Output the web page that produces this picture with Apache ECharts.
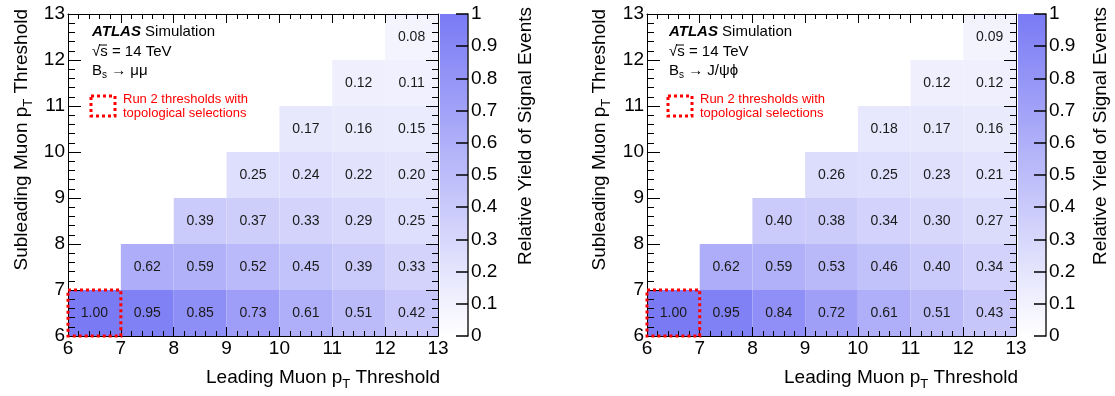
<!DOCTYPE html>
<html>
<head>
<meta charset="utf-8">
<script src="https://cdn.jsdelivr.net/npm/echarts@6/dist/echarts.min.js"></script>
<style>
html,body{margin:0;padding:0;background:#fff;}
#chart{width:1115px;height:396px;}
</style>
</head>
<body>
<div id="chart"></div>
<script>
// ---------------- DATA ----------------
const leadingThresholds = [6, 7, 8, 9, 10, 11, 12];      // lower edge of each bin (GeV)
const subleadingThresholds = [6, 7, 8, 9, 10, 11, 12];   // lower edge of each bin (GeV)
const axisTicks = [6, 7, 8, 9, 10, 11, 12, 13];
const colorbarTicks = [0, 0.1, 0.2, 0.3, 0.4, 0.5, 0.6, 0.7, 0.8, 0.9, 1];

// Each row: subleading threshold row, starting at leading threshold == subleading threshold
const yieldBsMuMu = [
  [1.00, 0.95, 0.85, 0.73, 0.61, 0.51, 0.42],
  [0.62, 0.59, 0.52, 0.45, 0.39, 0.33],
  [0.39, 0.37, 0.33, 0.29, 0.25],
  [0.25, 0.24, 0.22, 0.20],
  [0.17, 0.16, 0.15],
  [0.12, 0.11],
  [0.08]
];
const yieldBsJpsiPhi = [
  [1.00, 0.95, 0.84, 0.72, 0.61, 0.51, 0.43],
  [0.62, 0.59, 0.53, 0.46, 0.40, 0.34],
  [0.40, 0.38, 0.34, 0.30, 0.27],
  [0.26, 0.25, 0.23, 0.21],
  [0.18, 0.17, 0.16],
  [0.12, 0.12],
  [0.09]
];
const run2Cell = [[6, 6]];          // highlighted bin (leading, subleading)
const colorbarRange = [[0, 0, 1]];  // x0, y0(min), y1(max)

// ---------------- STYLE ----------------
const FONT = 'Liberation Sans';
const PALETTE = ['#ffffff', '#7a7af5'];

function buildCells(rows) {
  const out = [];
  rows.forEach((row, i) => {
    row.forEach((v, j) => {
      out.push([leadingThresholds[i + j], subleadingThresholds[i], v]);
    });
  });
  return out;
}

function renderCell(params, api) {
  const x = api.value(0), y = api.value(1), v = api.value(2);
  const p0 = api.coord([x, y + 1]);
  const p1 = api.coord([x + 1, y]);
  return {
    type: 'group',
    children: [
      { type: 'rect', shape: { x: p0[0], y: p0[1], width: p1[0] - p0[0], height: p1[1] - p0[1] },
        style: { fill: api.visual('color'), stroke: null } },
      { type: 'text', style: { text: v.toFixed(2), x: (p0[0] + p1[0]) / 2, y: (p0[1] + p1[1]) / 2,
        align: 'center', verticalAlign: 'middle', fontSize: 14, fontFamily: FONT, fill: '#1a1a1a' } }
    ]
  };
}

function renderBox(params, api) {
  const x = api.value(0), y = api.value(1);
  const p0 = api.coord([x, y + 1]);
  const p1 = api.coord([x + 1, y]);
  return { type: 'rect', shape: { x: p0[0], y: p0[1], width: p1[0] - p0[0], height: p1[1] - p0[1] },
    style: { fill: null, stroke: '#ff0000', lineWidth: 3, lineDash: [3, 3] } };
}

function renderColorbar(params, api) {
  const p0 = api.coord([0, api.value(2)]);
  const p1 = api.coord([1, api.value(1)]);
  return { type: 'rect', z2: -10, shape: { x: p0[0], y: p0[1], width: p1[0] - p0[0], height: p1[1] - p0[1] },
    style: { fill: new echarts.graphic.LinearGradient(0, 1, 0, 0, [
      { offset: 0, color: PALETTE[0] }, { offset: 1, color: PALETTE[1] }]) } };
}

function frameAxis(gridIndex, position, showLabels, major, minor) {
  return {
    type: 'value', gridIndex: gridIndex, position: position,
    min: axisTicks[0], max: axisTicks[axisTicks.length - 1], interval: 1, z: 5,
    axisLine: { show: true, onZero: false, lineStyle: { color: '#000', width: 1 } },
    axisTick: { show: true, inside: true, length: major, lineStyle: { color: '#000', width: 1 } },
    minorTick: { show: true, splitNumber: 5, length: minor, lineStyle: { color: '#000', width: 1 } },
    splitLine: { show: false }, minorSplitLine: { show: false },
    axisLabel: { show: showLabels, fontSize: 19, color: '#000', margin: 3, fontFamily: FONT }
  };
}

function cbYAxis(gridIndex) {
  return {
    type: 'value', gridIndex: gridIndex, position: 'right',
    min: colorbarTicks[0], max: colorbarTicks[colorbarTicks.length - 1], interval: 0.1, z: 10,
    axisLine: { show: true, onZero: false, lineStyle: { color: '#222', width: 1.5 } },
    axisTick: { show: true, inside: true, length: 12, lineStyle: { color: '#000', width: 1.5 } },
    minorTick: { show: false },
    splitLine: { show: false },
    axisLabel: { show: true, fontSize: 19, color: '#000', margin: 3, fontFamily: FONT,
      formatter: v => (v === 0 ? '0' : (Math.abs(v - 1) < 1e-9 ? '1' : v.toFixed(1))) }
  };
}
function cbXAxis(gridIndex) {
  return { type: 'value', gridIndex: gridIndex, min: 0, max: 1, show: false,
    axisLine: { show: false, onZero: false } };
}

function texts(x0, xTitle, yTitleX, cbTitleX, decay) {
  const red = '#ff0000';
  return [
    { type: 'text', x: x0, y: 32, style: { text: '{b|ATLAS} Simulation', fontSize: 15, fontFamily: FONT, fill: '#000',
      verticalAlign: 'middle', rich: { b: { fontWeight: 'bold', fontStyle: 'italic', fontSize: 15, fontFamily: FONT } } } },
    { type: 'text', x: x0, y: 52, style: { text: '√s = 14 TeV', fontSize: 15, fontFamily: FONT, fill: '#000', verticalAlign: 'middle' } },
    { type: 'line', shape: { x1: x0 + 7, y1: 45, x2: x0 + 15, y2: 45 }, style: { stroke: '#000', lineWidth: 1 } },
    { type: 'text', x: x0, y: 71, style: { text: decay, fontSize: 15, fontFamily: FONT, fill: '#000', verticalAlign: 'middle',
      rich: { s: { fontSize: 10, fontFamily: FONT, padding: [8, 0, 0, 0] } } } },
    { type: 'rect', shape: { x: x0 - 1, y: 96, width: 24, height: 20 }, style: { fill: null, stroke: red, lineWidth: 3, lineDash: [3, 3] } },
    { type: 'text', x: x0 + 31, y: 99, style: { text: 'Run 2 thresholds with', fontSize: 13, fontFamily: FONT, fill: red, verticalAlign: 'middle' } },
    { type: 'text', x: x0 + 31, y: 113, style: { text: 'topological selections', fontSize: 13, fontFamily: FONT, fill: red, verticalAlign: 'middle' } },
    { type: 'text', x: xTitle, y: 378, style: { text: 'Leading Muon p{t|T} Threshold', fontSize: 19, fontFamily: FONT, fill: '#000',
      align: 'right', verticalAlign: 'middle', rich: { t: { fontSize: 13, fontFamily: FONT, padding: [12, 0, 0, 0] } } } },
    { type: 'text', x: yTitleX, y: 9, rotation: Math.PI / 2, style: { text: 'Subleading Muon p{t|T} Threshold', fontSize: 19, fontFamily: FONT, fill: '#000',
      align: 'right', verticalAlign: 'middle', rich: { t: { fontSize: 13, fontFamily: FONT, padding: [12, 0, 0, 0] } } } },
    { type: 'text', x: cbTitleX, y: 7, rotation: Math.PI / 2, style: { text: 'Relative Yield of Signal Events', fontSize: 19, fontFamily: FONT, fill: '#000',
      align: 'right', verticalAlign: 'middle' } }
  ];
}

const chart = echarts.init(document.getElementById('chart'), null, { renderer: 'canvas' });
const option = {
  animation: false,
  backgroundColor: '#ffffff',
  textStyle: { fontFamily: FONT },
  grid: [
    { left: 68, top: 14, width: 370, height: 322, outerBoundsMode: 'none' },
    { left: 647, top: 14, width: 369, height: 322, outerBoundsMode: 'none' },
    { left: 440, top: 14, width: 28, height: 322, outerBoundsMode: 'none' },
    { left: 1018, top: 14, width: 28, height: 322, outerBoundsMode: 'none' }
  ],
  xAxis: [
    frameAxis(0, 'bottom', true, 9, 5), frameAxis(0, 'top', false, 9, 5),
    frameAxis(1, 'bottom', true, 9, 5), frameAxis(1, 'top', false, 9, 5),
    cbXAxis(2), cbXAxis(3)
  ],
  yAxis: [
    frameAxis(0, 'left', true, 13, 7), frameAxis(0, 'right', false, 12, 6),
    frameAxis(1, 'left', true, 13, 7), frameAxis(1, 'right', false, 12, 6),
    cbYAxis(2), cbYAxis(3)
  ],
  visualMap: {
    type: 'continuous', show: false, min: 0, max: 1, dimension: 2, seriesIndex: [0, 1],
    inRange: { color: PALETTE }
  },
  series: [
    { type: 'custom', xAxisIndex: 0, yAxisIndex: 0, z: 2, data: buildCells(yieldBsMuMu), renderItem: renderCell },
    { type: 'custom', xAxisIndex: 2, yAxisIndex: 2, z: 2, data: buildCells(yieldBsJpsiPhi), renderItem: renderCell },
    { type: 'custom', xAxisIndex: 0, yAxisIndex: 0, z: 20, data: run2Cell, renderItem: renderBox },
    { type: 'custom', xAxisIndex: 2, yAxisIndex: 2, z: 20, data: run2Cell, renderItem: renderBox },
    { type: 'custom', xAxisIndex: 4, yAxisIndex: 4, z: 0, data: colorbarRange, renderItem: renderColorbar },
    { type: 'custom', xAxisIndex: 5, yAxisIndex: 5, z: 0, data: colorbarRange, renderItem: renderColorbar }
  ],
  graphic: [].concat(
    texts(92, 440, 22, 526, 'B{s|s} → μμ'),
    texts(669, 1018, 600, 1101, 'B{s|s} → J/ψϕ')
  )
};
chart.setOption(option);
</script>
</body>
</html>
